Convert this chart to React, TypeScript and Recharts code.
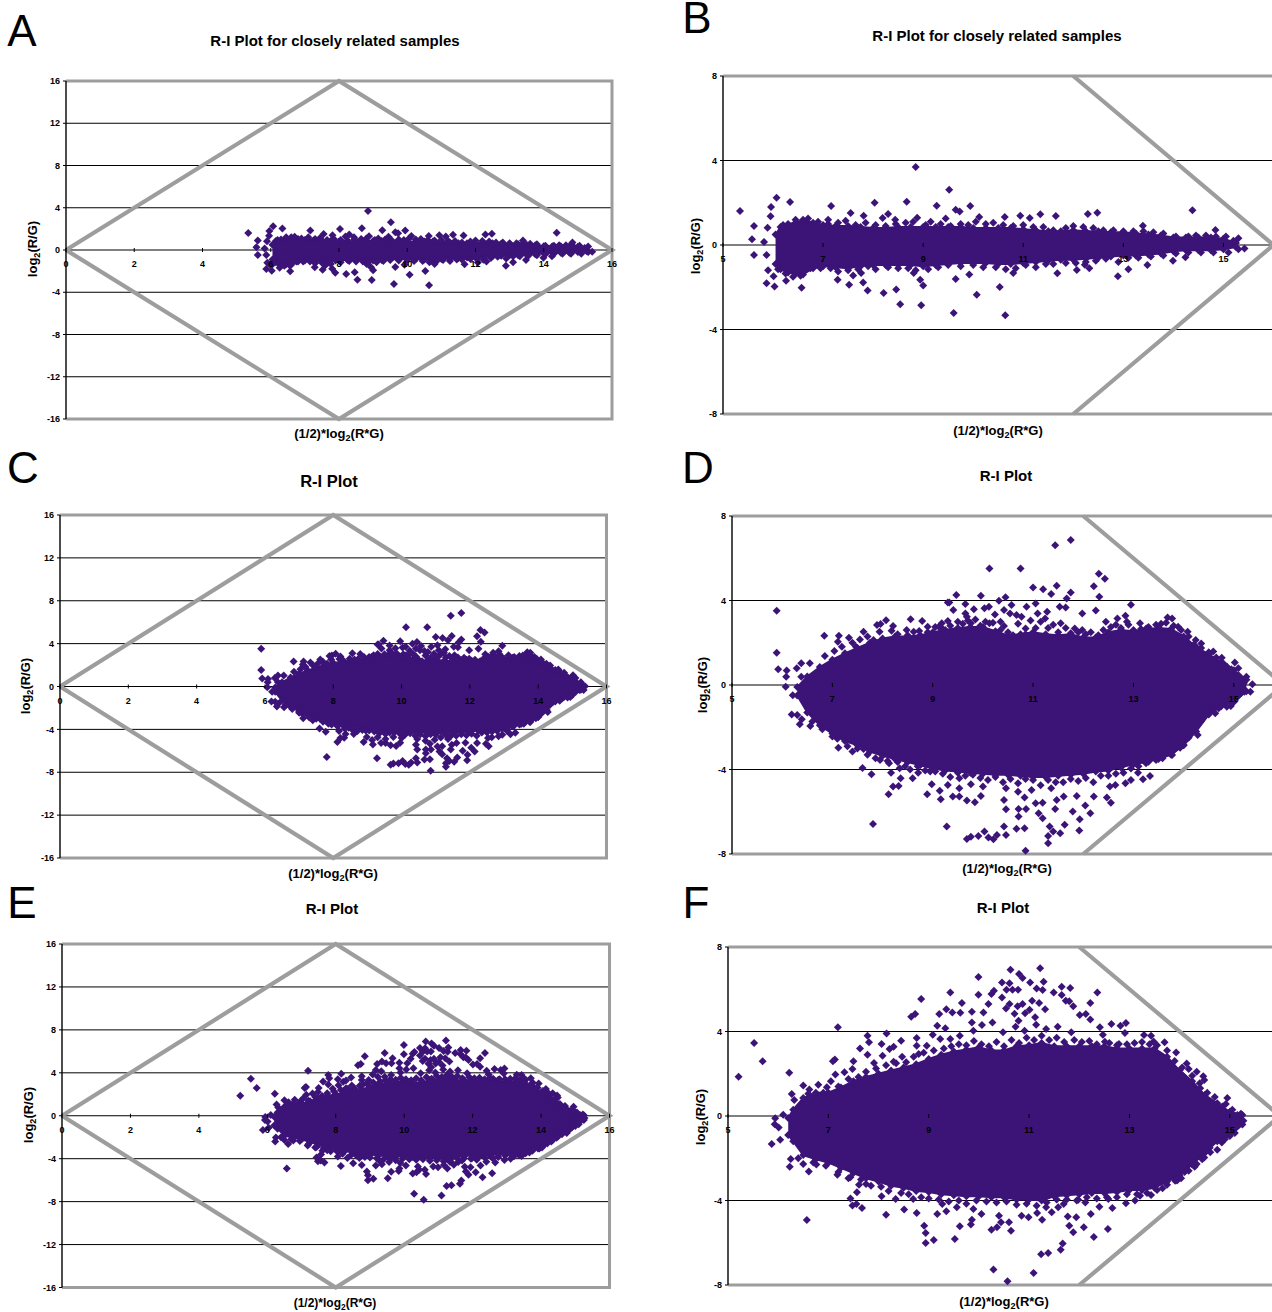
import { Area, CartesianGrid, ComposedChart, Scatter, XAxis, YAxis } from "recharts";

const PURPLE = "#3c1478";
const GREY = "#9d9d9d";
const FONT = '"Liberation Sans", Arial, sans-serif';

// pairs are [x, y], read off the zoomed panels B, D and F
// A/B, C/D and E/F show the same three datasets on two different scales
const closeBandX = [6.05, 6.15, 6.3, 6.45, 6.6, 6.8, 7, 7.25, 7.5, 7.75, 8, 8.25, 8.5, 8.75, 9, 9.25, 9.5, 9.75, 10, 10.25, 10.5, 10.75, 11, 11.25, 11.5, 11.75, 12, 12.25, 12.5, 12.75, 13, 13.25, 13.5, 13.75, 14, 14.25, 14.5, 14.75, 15, 15.25];
const closeBandHi = [0.5, 0.85, 1.0, 1.05, 1.2, 1.05, 0.95, 0.9, 0.9, 0.85, 0.8, 0.8, 0.85, 0.85, 0.85, 0.85, 0.85, 0.85, 0.8, 0.8, 0.8, 0.8, 0.75, 0.7, 0.65, 0.65, 0.7, 0.65, 0.65, 0.6, 0.6, 0.55, 0.5, 0.45, 0.35, 0.35, 0.35, 0.35, 0.3, 0.1];
const closeBandLo = [-0.9, -1.15, -1.3, -1.35, -1.4, -1.1, -1.0, -1.05, -1.1, -1.0, -0.95, -0.95, -0.95, -0.95, -1.0, -0.95, -0.9, -0.85, -0.85, -0.85, -0.9, -0.9, -0.85, -0.8, -0.75, -0.7, -0.7, -0.65, -0.6, -0.55, -0.5, -0.5, -0.45, -0.4, -0.3, -0.25, -0.25, -0.25, -0.2, -0.1];
const closeOutliers = [
  [5.34, 1.61], [5.62, 0.9], [5.58, 0.27], [5.62, -0.47], [5.82, 0.14], [5.89, 0.82], [5.87, -0.47], [5.96, 1.8], [6.07, 2.24], [5.95, 1.36],
  [6.34, 2.03], [5.9, -1.2], [5.87, -1.81], [6.03, -1.96], [6.57, -2.02], [6.26, -1.69], [6.01, -1.48], [7.16, 1.85], [7.55, 1.51], [7.1, 1.2],
  [7.81, 1.39], [8.3, 1.47], [8.03, 2.0], [8.67, 2.05], [8.85, 3.69], [9.27, 1.86], [9.52, 2.62], [9.65, 1.67], [9.73, 1.59], [9.94, 1.85],
  [8.88, 1.29], [8.19, 1.28], [8.44, 1.2], [9.45, 1.25], [10.63, 1.32], [10.12, 1.32], [10.94, 1.39], [11.13, 1.28], [11.34, 1.45], [11.65, 1.37],
  [12.29, 1.47], [12.48, 1.53], [14.38, 1.64], [14.84, 0.71], [13.39, 0.91], [15.3, 0.32], [15.42, -0.16], [14.24, -0.58], [13.99, -0.74], [13.48, -0.95],
  [13.1, -1.15], [12.89, -1.48], [12.32, -1.1], [12.23, -0.93], [12.07, -1.18], [11.68, -1.34], [10.8, -1.32], [10.53, -1.99], [10.64, -3.33], [10.07, -2.35],
  [9.61, -3.22], [9.65, -1.61], [8.96, -2.85], [9.0, -1.92], [8.94, -1.64], [8.54, -2.81], [8.46, -2.11], [8.21, -2.27], [7.89, -2.15], [7.52, -1.88],
  [7.29, -1.64], [7.8, -1.77], [7.6, -1.44], [7.76, -1.32], [9.92, -1.4], [8.81, -1.32],
];
const closeFringe = [
  [6.2, 0.95], [6.45, 1.2], [6.7, 1.25], [6.9, 1.1], [7.1, 1.0], [7.3, 1.05], [7.45, 1.15], [7.65, 0.95], [7.85, 1.05], [8.05, 0.95],
  [8.25, 0.9], [8.45, 1.0], [8.65, 1.05], [8.8, 1.1], [9.05, 0.95], [9.15, 1.1], [9.35, 1.0], [9.55, 0.9], [9.75, 1.0], [9.9, 0.95],
  [10.05, 1.1], [10.25, 1.0], [10.4, 1.05], [10.6, 0.95], [10.8, 0.9], [11.0, 0.95], [11.2, 0.85], [11.4, 0.85], [11.6, 0.7], [11.85, 0.8],
  [12.0, 0.9], [12.2, 0.85], [12.4, 0.8], [12.6, 0.7], [12.8, 0.7], [13.0, 0.65], [13.2, 0.65], [13.4, 0.65], [13.6, 0.6], [13.8, 0.55],
  [14.05, 0.4], [14.3, 0.4], [14.45, 0.45], [14.65, 0.45], [14.85, 0.4], [15.05, 0.4], [15.2, 0.2],
  [6.1, -1.15], [6.25, -1.35], [6.4, -1.5], [6.55, -1.45], [6.75, -1.1], [6.95, -1.1], [7.15, -1.1], [7.3, -1.25], [7.5, -1.2], [7.7, -1.15],
  [7.9, -1.0], [8.05, -1.15], [8.3, -1.05], [8.5, -1.1], [8.7, -1.1], [8.85, -1.2], [9.1, -1.15], [9.3, -1.05], [9.5, -0.95], [9.75, -1.0],
  [10.0, -0.95], [10.2, -1.05], [10.45, -1.05], [10.65, -1.15], [10.85, -1.1], [11.05, -0.95], [11.25, -1.05], [11.45, -0.9], [11.6, -0.9], [11.85, -0.85],
  [12.05, -0.85], [12.25, -0.8], [12.45, -0.75], [12.65, -0.65], [12.9, -0.8], [13.1, -0.6], [13.3, -0.6], [13.55, -0.55], [13.8, -0.5], [14.05, -0.4],
  [14.3, -0.35], [14.55, -0.35], [14.8, -0.35], [15.1, -0.35], [15.3, -0.2],
];

const mixABandX = [6.3, 6.5, 6.75, 7, 7.25, 7.5, 7.75, 8, 8.25, 8.5, 8.75, 9, 9.25, 9.5, 9.75, 10, 10.25, 10.5, 10.75, 11, 11.25, 11.5, 11.75, 12, 12.25, 12.5, 12.75, 13, 13.25, 13.5, 13.75, 14, 14.25, 14.5, 14.75, 15, 15.25];
const mixABandHi = [-0.1, 0.4, 0.85, 1.2, 1.5, 1.75, 2.0, 2.2, 2.3, 2.3, 2.35, 2.5, 2.6, 2.7, 2.75, 2.75, 2.55, 2.35, 2.4, 2.5, 2.4, 2.35, 2.4, 2.25, 2.25, 2.5, 2.6, 2.55, 2.65, 2.7, 2.65, 2.3, 1.8, 1.45, 1.1, 0.7, 0.25];
const mixABandLo = [-0.5, -1.3, -1.9, -2.3, -2.65, -2.85, -3.15, -3.35, -3.5, -3.65, -3.8, -3.95, -4.05, -4.1, -4.15, -4.2, -4.25, -4.25, -4.3, -4.35, -4.35, -4.3, -4.25, -4.2, -4.1, -4.05, -3.9, -3.75, -3.65, -3.5, -3.3, -2.85, -2.2, -1.4, -1.0, -0.8, -0.3];
const mixAOutliers = [
  [5.89, 3.52], [5.89, 1.53], [5.92, 0.74], [6.09, 0.69], [6.08, 0.39], [6.07, -0.08], [6.21, -0.49], [6.19, -1.4], [6.3, -1.42], [6.39, -1.62],
  [6.35, -1.86], [6.56, -1.94], [6.6, -1.73], [6.29, 0.79], [6.38, 1.03], [6.55, 1.03], [6.38, 0.39], [6.84, 2.33], [6.85, 1.37], [7.04, 1.61],
  [7.13, 2.33], [7.11, 2.05], [7.33, 2.24], [7.19, 1.81], [7.47, 1.81], [7.62, 2.52], [7.72, 1.89], [7.82, 2.13], [7.89, 2.84], [7.96, 2.89],
  [8.07, 3.06], [7.94, 2.52], [8.21, 2.79], [8.18, 2.57], [8.48, 2.6], [8.56, 3.11], [8.62, 2.52], [8.73, 2.56], [8.79, 3.03], [8.9, 2.76],
  [9.12, 2.76], [9.18, 2.92], [9.3, 3.03], [9.3, 3.91], [9.33, 3.91], [9.47, 4.26], [9.41, 3.55], [9.65, 3.83], [9.65, 3.39], [9.68, 3.23],
  [9.82, 3.58], [9.76, 2.92], [9.96, 4.23], [10.03, 3.63], [10.12, 3.71], [10.13, 5.52], [10.13, 2.92], [10.24, 3.34], [10.32, 3.99], [10.45, 4.15],
  [10.35, 3.0], [10.42, 2.79], [10.42, 3.55], [10.57, 3.79], [10.54, 3.39], [10.67, 3.31], [10.77, 3.23], [10.75, 5.52], [10.87, 3.71], [10.85, 2.68],
  [11.0, 4.62], [11.05, 3.86], [11.2, 4.53], [11.36, 4.31], [11.47, 4.7], [11.09, 3.39], [11.28, 3.47], [11.24, 3.15], [11.44, 6.61], [11.75, 6.86],
  [11.75, 4.38], [11.67, 4.1], [11.53, 3.71], [11.65, 3.67], [11.55, 2.92], [11.98, 3.39], [11.83, 2.68], [11.98, 2.6], [12.21, 4.68], [12.31, 5.27],
  [12.43, 5.03], [12.32, 4.18], [12.25, 3.53], [12.45, 3.0], [12.68, 3.15], [12.84, 3.28], [12.95, 3.8], [12.87, 3.0], [13.13, 2.92], [13.26, 2.68],
  [13.68, 3.2], [13.77, 3.15], [13.89, 2.76], [14.08, 2.52], [14.24, 2.13], [14.35, 1.97], [14.59, 1.58], [14.76, 1.29], [15.02, 1.06], [14.86, 0.87],
  [15.09, 0.79], [15.25, 0.39], [15.37, 0.03], [15.33, -0.32], [15.21, -0.32], [15.0, -0.39], [14.94, -0.99], [14.86, -1.03], [14.63, -1.34], [14.44, -1.42],
  [14.34, -1.73], [14.28, -2.37], [14.0, -2.84], [13.93, -2.97], [13.77, -3.31], [13.58, -3.47], [13.3, -3.63], [13.33, -4.31], [13.19, -4.46], [13.09, -4.15],
  [12.95, -4.5], [12.84, -4.65], [12.64, -4.73], [12.53, -4.81], [12.55, -5.57], [12.47, -5.33], [12.21, -5.28], [12.14, -6.07], [12.04, -5.71], [11.93, -6.36],
  [11.92, -6.89], [11.79, -5.99], [11.63, -6.62], [11.54, -7.02], [11.4, -6.94], [11.3, -7.49], [11.3, -7.15], [11.33, -6.7], [11.19, -6.31], [11.11, -6.07],
  [11.05, -5.6], [11.19, -5.57], [11.44, -5.87], [11.47, -5.44], [11.61, -5.28], [11.87, -5.25], [11.36, -4.89], [10.85, -7.85], [10.83, -6.78], [10.67, -6.81],
  [10.46, -7.1], [10.42, -6.7], [10.46, -5.88], [10.42, -5.44], [10.71, -6.23], [10.71, -5.87], [10.86, -5.87], [10.83, -5.33], [10.97, -4.97], [10.7, -5.05],
  [10.46, -4.89], [10.28, -7.1], [10.21, -7.3], [10.11, -7.22], [10.03, -6.94], [9.91, -7.15], [9.76, -7.18], [9.68, -7.29], [9.28, -6.7], [9.84, -5.55],
  [9.68, -5.47], [9.96, -5.25], [9.76, -4.7], [10.0, -4.81], [9.53, -5.28], [9.4, -5.28], [9.53, -4.89], [9.16, -5.41], [9.14, -5.0], [8.98, -4.7],
  [8.89, -5.17], [9.3, -4.73], [9.53, -4.42], [8.6, -4.42], [8.36, -4.42], [8.32, -4.78], [8.21, -4.81], [8.12, -5.17], [8.17, -4.15], [8.34, -3.94],
  [7.78, -4.23], [7.6, -3.93], [7.81, -6.58], [8.13, -3.71], [7.86, -3.47], [7.62, -3.03], [7.4, -3.15], [7.12, -2.97], [7.0, -2.44], [7.82, -3.0],
  [8.71, -4.15], [8.95, -4.1],
];
const mixAFringe = [
  [7.4, 2.0], [7.55, 2.15], [7.7, 2.3], [8.3, 2.4], [8.5, 2.35], [8.9, 2.5], [9.05, 2.75], [9.2, 2.65], [9.35, 2.8], [9.5, 3.0],
  [9.6, 2.9], [9.7, 3.05], [9.85, 3.1], [9.95, 2.8], [10.05, 3.0], [10.2, 2.95], [10.35, 2.6], [10.5, 2.5], [10.6, 2.35], [10.7, 2.9],
  [10.85, 2.4], [10.95, 3.05], [11.05, 2.7], [11.15, 3.0], [11.3, 2.7], [11.4, 2.85], [11.5, 2.5], [11.65, 2.7], [11.75, 2.45], [11.9, 2.5],
  [12.05, 2.4], [12.15, 2.5], [12.3, 2.35], [12.4, 2.6], [12.55, 2.75], [12.65, 2.85], [12.75, 2.7], [12.9, 2.85], [13.0, 2.6], [13.15, 2.65],
  [13.3, 2.75], [13.45, 2.85], [13.55, 2.9], [13.65, 2.95], [13.8, 2.8], [13.95, 2.6], [14.1, 2.3], [14.2, 1.9], [14.35, 1.75], [14.5, 1.55],
  [14.65, 1.3], [14.8, 1.0], [14.95, 0.75], [15.1, 0.45], [15.2, 0.1],
  [6.8, -2.1], [7.1, -2.55], [7.3, -2.9], [7.5, -3.0], [7.7, -3.3], [7.95, -3.55], [8.1, -3.6], [8.3, -3.65], [8.45, -3.85], [8.55, -4.0],
  [8.7, -3.85], [8.85, -4.05], [9.05, -4.1], [9.2, -4.2], [9.35, -4.35], [9.5, -4.15], [9.65, -4.3], [9.8, -4.25], [9.95, -4.4], [10.1, -4.5],
  [10.25, -4.35], [10.4, -4.6], [10.55, -4.45], [10.7, -4.65], [10.85, -4.45], [11.0, -4.5], [11.15, -4.75], [11.3, -4.5], [11.45, -4.6], [11.6, -4.6],
  [11.75, -4.45], [11.9, -4.55], [12.05, -4.4], [12.2, -4.6], [12.35, -4.3], [12.5, -4.3], [12.65, -4.2], [12.8, -4.15], [12.95, -3.95], [13.1, -3.85],
  [13.25, -3.7], [13.45, -3.55], [13.6, -3.35], [13.8, -3.1], [13.95, -2.7], [14.1, -2.5], [14.2, -2.1], [14.35, -1.5], [14.5, -1.1], [14.7, -1.1],
  [14.85, -0.7], [15.1, -0.5],
];

const mixBBandX = [6.2, 6.3, 6.5, 6.75, 7, 7.25, 7.5, 7.75, 8, 8.25, 8.5, 8.75, 9, 9.25, 9.5, 9.75, 10, 10.25, 10.5, 10.75, 11, 11.25, 11.5, 11.75, 12, 12.25, 12.5, 12.75, 13, 13.25, 13.5, 13.75, 14, 14.25, 14.5, 14.75, 15, 15.25];
const mixBBandHi = [-0.1, 0.3, 0.85, 1.1, 1.1, 1.35, 1.65, 1.85, 2.0, 2.15, 2.3, 2.45, 2.7, 2.9, 3.05, 3.15, 3.25, 3.1, 3.1, 3.3, 3.35, 3.45, 3.3, 3.3, 3.3, 3.3, 3.3, 3.2, 3.2, 3.2, 3.2, 2.8, 2.15, 1.65, 1.0, 0.6, 0.2, 0.05];
const mixBBandLo = [-0.9, -1.2, -1.85, -2.05, -2.2, -2.45, -2.7, -2.95, -3.1, -3.3, -3.4, -3.55, -3.6, -3.7, -3.75, -3.8, -3.8, -3.85, -3.85, -3.95, -3.95, -4.0, -3.8, -3.75, -3.7, -3.65, -3.65, -3.6, -3.5, -3.5, -3.4, -3.1, -2.8, -2.3, -1.75, -1.2, -0.95, -0.4];
const mixBOutliers = [
  [5.21, 1.86], [5.52, 3.45], [5.69, 2.59], [6.22, 2.05], [5.87, -1.32], [6.04, -1.12], [5.93, -0.39], [5.94, -0.11], [6.1, 0.06], [6.01, -0.54],
  [6.27, 1.04], [6.32, 0.76], [6.5, 1.44], [6.62, 1.25], [6.8, 1.48], [6.97, 1.36], [7.19, 4.2], [7.13, 2.68], [7.09, 2.59], [7.14, 1.96],
  [7.05, 1.64], [7.32, 2.07], [7.5, 2.59], [7.48, 2.22], [7.63, 3.2], [7.78, 3.8], [7.81, 3.49], [7.78, 2.9], [8.06, 3.41], [8.16, 3.91],
  [7.91, 2.51], [8.08, 2.85], [8.22, 3.17], [8.3, 3.28], [8.45, 3.56], [8.47, 2.81], [8.3, 2.57], [8.65, 4.7], [8.73, 4.83], [8.85, 5.54],
  [8.76, 3.69], [8.76, 3.33], [8.8, 2.93], [8.96, 3.33], [9.08, 3.85], [9.17, 4.27], [9.21, 4.83], [9.35, 5.05], [9.43, 5.85], [9.47, 4.9],
  [9.63, 4.89], [9.66, 5.35], [9.33, 4.15], [9.23, 3.64], [9.43, 3.64], [9.62, 3.8], [9.86, 4.94], [9.86, 4.43], [9.89, 4.04], [9.99, 6.58],
  [9.99, 5.74], [10.06, 4.31], [10.09, 4.9], [10.19, 5.3], [10.25, 5.77], [10.3, 5.93], [10.27, 4.43], [10.46, 6.32], [10.61, 6.28], [10.63, 6.92],
  [10.55, 5.98], [10.67, 5.98], [10.78, 5.98], [10.46, 5.61], [10.54, 5.09], [10.61, 5.3], [10.77, 5.19], [10.87, 5.3], [10.71, 4.84], [10.92, 4.86],
  [11.01, 5.03], [10.79, 4.51], [10.73, 4.23], [10.91, 4.04], [10.48, 3.96], [10.8, 6.72], [10.87, 6.53], [11.02, 6.32], [11.22, 7.0], [11.29, 6.36],
  [11.15, 6.04], [11.27, 5.96], [11.06, 5.46], [11.2, 5.35], [11.32, 5.05], [11.12, 4.67], [11.14, 4.32], [11.34, 4.12], [11.49, 5.85], [11.65, 6.12],
  [11.82, 6.06], [11.65, 5.73], [11.73, 5.46], [11.8, 5.43], [11.88, 5.19], [11.57, 4.23], [12.01, 4.78], [12.13, 4.83], [12.22, 4.57], [12.22, 5.35],
  [12.36, 5.85], [11.84, 3.96], [12.41, 4.2], [12.47, 3.85], [12.64, 4.35], [12.82, 4.27], [12.93, 4.4], [12.91, 3.93], [13.29, 3.83], [13.43, 3.8],
  [12.79, 3.41], [12.51, 3.52], [13.48, 3.53], [13.7, 3.49], [13.93, 3.01], [14.14, 2.49], [14.34, 2.1], [14.47, 1.88], [14.49, 1.7], [14.18, 2.22],
  [14.07, 1.91], [14.41, 1.31], [14.22, 1.36], [14.1, 1.59], [13.91, 1.12], [14.24, 0.68], [14.49, 0.73], [14.61, 0.68], [14.73, 0.49], [14.57, 0.36],
  [14.95, 0.85], [14.92, 0.57], [14.84, 0.02], [15.22, 0.11], [15.27, -0.22], [15.16, -0.46], [14.96, -0.14], [14.84, -1.25], [14.61, -1.72], [14.49, -1.96],
  [14.34, -2.27], [14.18, -2.59], [14.03, -2.95], [13.91, -3.06], [13.66, -3.42], [13.43, -3.74], [13.21, -3.77], [13.11, -4.0], [12.93, -4.13], [12.66, -4.35],
  [12.57, -5.35], [12.58, -3.93], [12.4, -4.29], [12.29, -5.73], [12.23, -4.64], [12.12, -4.09], [12.09, -5.27], [11.98, -3.97], [11.94, -4.79], [11.88, -5.5],
  [11.8, -5.19], [11.77, -4.76], [11.69, -4.16], [11.58, -4.32], [11.67, -6.03], [11.63, -6.33], [11.38, -6.48], [11.24, -6.55], [11.09, -7.43], [11.45, -4.56],
  [11.34, -4.32], [11.26, -4.91], [11.16, -4.59], [10.99, -4.79], [10.85, -4.72], [10.64, -5.43], [10.6, -5.03], [10.44, -5.03], [10.36, -5.27], [10.25, -5.38],
  [10.4, -4.72], [10.57, -7.82], [10.29, -7.27], [10.05, -4.64], [9.89, -4.4], [9.86, -4.91], [9.84, -5.14], [9.62, -5.22], [9.52, -5.82], [9.56, -4.32],
  [9.35, -4.51], [9.17, -4.64], [9.1, -5.87], [8.94, -6.01], [8.94, -5.54], [8.91, -5.19], [8.76, -4.59], [8.51, -4.43], [8.15, -4.67], [8.34, -3.93],
  [8.06, -3.8], [7.67, -4.35], [7.56, -4.16], [7.48, -4.24], [7.44, -3.9], [7.57, -3.61], [7.75, -3.22], [6.57, -4.92], [6.61, -2.63], [6.5, -2.27],
  [6.76, -2.3], [6.23, -2.4], [6.25, -2.03], [7.18, -2.78], [7.44, -2.9], [7.61, -3.26], [8.69, -3.93], [9.27, -4.16],
];
const mixBFringe = [
  [6.6, 1.05], [6.9, 1.1], [7.2, 1.4], [7.4, 1.75], [7.6, 1.85], [7.75, 2.1], [7.95, 2.25], [8.15, 2.4], [8.35, 2.5], [8.55, 2.55],
  [8.7, 2.8], [8.9, 3.0], [9.1, 3.1], [9.3, 3.2], [9.45, 3.3], [9.6, 3.4], [9.75, 3.35], [9.9, 3.55], [10.05, 3.4], [10.2, 3.3],
  [10.35, 3.5], [10.5, 3.3], [10.65, 3.6], [10.8, 3.45], [10.95, 3.7], [11.1, 3.6], [11.25, 3.8], [11.4, 3.6], [11.55, 3.7], [11.7, 3.5],
  [11.9, 3.6], [12.05, 3.5], [12.2, 3.55], [12.35, 3.4], [12.6, 3.45], [12.75, 3.35], [12.95, 3.4], [13.1, 3.45], [13.25, 3.5], [13.4, 3.4],
  [13.55, 3.35], [13.75, 3.1], [13.9, 2.6], [14.05, 2.3], [14.25, 1.9], [14.4, 1.55], [14.55, 1.1], [14.7, 0.9], [14.85, 0.45], [15.05, 0.3],
  [15.15, 0.05],
  [6.4, -2.0], [6.7, -2.2], [6.95, -2.35], [7.2, -2.65], [7.4, -2.95], [7.65, -3.0], [7.85, -3.3], [8.05, -3.35], [8.2, -3.55], [8.45, -3.65],
  [8.6, -3.7], [8.85, -3.85], [9.0, -3.9], [9.2, -3.95], [9.4, -4.05], [9.6, -4.0], [9.75, -4.15], [9.95, -4.0], [10.15, -4.05], [10.35, -4.1],
  [10.55, -4.05], [10.75, -4.2], [10.95, -4.15], [11.15, -4.25], [11.35, -4.1], [11.55, -3.95], [11.75, -3.95], [11.95, -4.0], [12.15, -3.85], [12.35, -3.9],
  [12.55, -3.85], [12.75, -3.85], [12.95, -3.7], [13.15, -3.7], [13.35, -3.65], [13.55, -3.5], [13.75, -3.25], [13.95, -3.05], [14.1, -2.65], [14.3, -2.4],
  [14.45, -2.05], [14.6, -1.5], [14.75, -1.6], [14.9, -1.1], [15.1, -0.8],
];

const fullXTicks = [0, 2, 4, 6, 8, 10, 12, 14, 16];
const fullYTicks = [-16, -12, -8, -4, 0, 4, 8, 12, 16];
const zoomXTicks = [5, 7, 9, 11, 13, 15];
const zoomYTicks = [-8, -4, 0, 4, 8];

const fullFrame = [[0, 16], [16, 16], [16, -16], [0, -16]];
const fullDiamond = [[0, 0], [8, 16], [16, 0], [8, -16], [0, 0]];
const zoomFrameTop = [[5, 8], [16, 8]];
const zoomFrameBottom = [[5, -8], [16, -8]];
const zoomChevron = [[12, 8], [16, 0], [12, -8]];

const closeData = { bandX: closeBandX, hi: closeBandHi, lo: closeBandLo, outliers: closeOutliers, fringe: closeFringe };
const mixAData = { bandX: mixABandX, hi: mixABandHi, lo: mixABandLo, outliers: mixAOutliers, fringe: mixAFringe };
const mixBData = { bandX: mixBBandX, hi: mixBBandHi, lo: mixBBandLo, outliers: mixBOutliers, fringe: mixBFringe };

const toPoints = (pairs: number[][]) => pairs.map(([x, y]) => ({ x, y }));

function Marker(props: any) {
  const { cx, cy } = props;
  if (cx == null || cy == null) return <g />;
  return <path d={`M${cx} ${cy - 4}L${cx + 4} ${cy}L${cx} ${cy + 4}L${cx - 4} ${cy}Z`} fill={PURPLE} />;
}

const NoMark = () => <g />;

const MARGIN_LEFT = 50;
const MARGIN_TOP = 10;

function Plot({ set, left, right, top, bottom, full }: any) {
  const plotH = bottom - top;
  const band = set.bandX.map((x: number, i: number) => ({ x, band: [set.lo[i], set.hi[i]] }));
  // the edge of the dense cloud is made of markers too
  const edge = set.bandX.flatMap((x: number, i: number) => [{ x, y: set.hi[i] }, { x, y: set.lo[i] }]);
  const xTicks = full ? fullXTicks : zoomXTicks;
  const xTick = (p: any) => (
    <g>
      <line x1={p.x} x2={p.x} y1={p.y - plotH / 2 - 2} y2={p.y - plotH / 2 + 2} stroke="#000" />
      <text x={p.x} y={p.y - plotH / 2 + 17} textAnchor="middle" fontSize={9} fontWeight={700} fontFamily={FONT} fill="#000">
        {p.payload.value}
      </text>
    </g>
  );
  const lineProps = { stroke: GREY, strokeWidth: 4.2, strokeLinejoin: "miter" as const };
  const frameProps = { stroke: GREY, strokeWidth: 3 };
  return (
    <div style={{ position: "absolute", left: left - MARGIN_LEFT, top: top - MARGIN_TOP }}>
      <ComposedChart
        width={right - left + MARGIN_LEFT + 10}
        height={plotH + MARGIN_TOP * 2}
        data={band}
        margin={{ top: MARGIN_TOP, bottom: MARGIN_TOP - 1, left: 20, right: 10 }}
      >
        <CartesianGrid vertical={false} stroke="#000" strokeWidth={1} />
        {full ? (
          <>
            <Scatter data={toPoints(fullFrame)} line={frameProps} shape={NoMark} isAnimationActive={false} />
            <Scatter data={toPoints(fullDiamond)} line={lineProps} shape={NoMark} isAnimationActive={false} />
          </>
        ) : (
          <>
            <Scatter data={toPoints(zoomFrameTop)} line={frameProps} shape={NoMark} isAnimationActive={false} />
            <Scatter data={toPoints(zoomFrameBottom)} line={frameProps} shape={NoMark} isAnimationActive={false} />
            <Scatter data={toPoints(zoomChevron)} line={lineProps} shape={NoMark} isAnimationActive={false} />
          </>
        )}
        <Area dataKey="band" type="linear" fill={PURPLE} fillOpacity={1} stroke={PURPLE} strokeWidth={2} dot={false} activeDot={false} isAnimationActive={false} />
        <Scatter data={edge} shape={Marker} isAnimationActive={false} />
        <Scatter data={toPoints(set.fringe)} shape={Marker} isAnimationActive={false} />
        <Scatter data={toPoints(set.outliers)} shape={Marker} isAnimationActive={false} />
        <XAxis
          dataKey="x"
          type="number"
          domain={full ? [0, 16] : [5, 16]}
          ticks={xTicks}
          height={1}
          axisLine={false}
          tickLine={false}
          tickSize={0}
          tickMargin={0}
          interval={0}
          tick={xTick}
          zIndex={900}
        />
        <YAxis
          dataKey="y"
          type="number"
          domain={full ? [-16, 16] : [-8, 8]}
          ticks={full ? fullYTicks : zoomYTicks}
          width={30}
          interval={0}
          axisLine={{ stroke: "#000", strokeWidth: 1.4 }}
          tickLine={{ stroke: "#000" }}
          tickSize={3}
          tickMargin={3}
          tick={{ fontSize: 9, fontWeight: 700, fontFamily: FONT, fill: "#000" }}
          zIndex={900}
        />
      </ComposedChart>
    </div>
  );
}

function Label({ x, y, size, weight, rotate, tight, children }: any) {
  return (
    <div
      style={{
        position: "absolute",
        left: x,
        top: y,
        transform: `translate(-50%, -50%)${rotate ? " rotate(-90deg)" : ""}`,
        fontFamily: FONT,
        fontSize: size,
        fontWeight: weight,
        lineHeight: tight ? 0.75 : 1,
        whiteSpace: "nowrap",
        color: "#000",
      }}
    >
      {children}
    </div>
  );
}

const XTitle = () => (
  <>
    (1/2)*log<sub style={{ fontSize: "70%", lineHeight: 0 }}>2</sub>(R*G)
  </>
);
const YTitle = () => (
  <>
    log<sub style={{ fontSize: "70%", lineHeight: 0 }}>2</sub>(R/G)
  </>
);

const panels = [
  { id: "A", set: closeData, full: true, left: 66, right: 612, top: 80.5, bottom: 418.5, letter: [22, 30], title: "R-I Plot for closely related samples", titleAt: [335, 40], titleSize: 15, xAt: [339, 433], xSize: 13, yAt: [32, 249] },
  { id: "B", set: closeData, full: false, left: 722.5, right: 1273, top: 76, bottom: 414, letter: [697, 17], title: "R-I Plot for closely related samples", titleAt: [997, 35], titleSize: 15, xAt: [998, 430], xSize: 13, yAt: [695, 246] },
  { id: "C", set: mixAData, full: true, left: 59.5, right: 606, top: 515, bottom: 858, letter: [23, 467], title: "R-I Plot", titleAt: [329, 481], titleSize: 16.5, xAt: [333, 873], xSize: 13, yAt: [25, 686] },
  { id: "D", set: mixAData, full: false, left: 732, right: 1284, top: 516, bottom: 854, letter: [698, 467], title: "R-I Plot", titleAt: [1006, 475], titleSize: 15, xAt: [1007, 868], xSize: 13, yAt: [702, 685] },
  { id: "E", set: mixBData, full: true, left: 61.5, right: 609, top: 943.5, bottom: 1287, letter: [22, 902], title: "R-I Plot", titleAt: [332, 908], titleSize: 15, xAt: [335, 1302.5], xSize: 12, yAt: [28, 1115] },
  { id: "F", set: mixBData, full: false, left: 728, right: 1280, top: 947, bottom: 1285, letter: [696, 902], title: "R-I Plot", titleAt: [1003, 907], titleSize: 15, xAt: [1004, 1301], xSize: 13, yAt: [700, 1117] },
];

export default function App() {
  return (
    <div style={{ position: "absolute", left: 0, top: 0, width: 1272, height: 1312, overflow: "hidden", background: "#fff" }}>
      {panels.map((p) => (
        <div key={p.id}>
          <Plot set={p.set} full={p.full} left={p.left} right={p.right} top={p.top} bottom={p.bottom} />
          <Label x={p.letter[0]} y={p.letter[1]} size={44} weight={400} tight>{p.id}</Label>
          <Label x={p.titleAt[0]} y={p.titleAt[1]} size={p.titleSize} weight={700}>{p.title}</Label>
          <Label x={p.xAt[0]} y={p.xAt[1]} size={p.xSize} weight={700}><XTitle /></Label>
          <Label x={p.yAt[0]} y={p.yAt[1]} size={13} weight={700} rotate><YTitle /></Label>
        </div>
      ))}
    </div>
  );
}
